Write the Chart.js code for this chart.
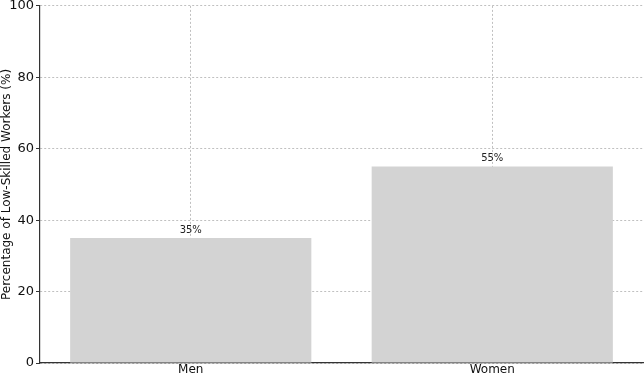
<!DOCTYPE html>
<html>
<head>
<meta charset="utf-8">
<script src="https://cdn.jsdelivr.net/npm/chart.js@4/dist/chart.umd.min.js"></script>
<style>
  html, body { margin: 0; padding: 0; background: #fff; }
  #wrap { width: 644px; height: 376px; position: relative; }
</style>
</head>
<body>
<div id="wrap"><canvas id="lowSkillChart"></canvas></div>
<script>
// --- DATA ---
const genders = ['Men', 'Women'];
const lowSkilledShare = [35, 55];
const yTicks = [0, 20, 40, 60, 80, 100];

// draws the "35%" style labels above each bar
const valueLabels = {
    id: 'valueLabels',
    afterDatasetsDraw(chart) {
        const ctx = chart.ctx;
        const meta = chart.getDatasetMeta(0);
        ctx.save();
        ctx.font = '10px "DejaVu Sans"';
        ctx.fillStyle = '#222';
        ctx.textAlign = 'center';
        ctx.textBaseline = 'bottom';
        meta.data.forEach((bar, i) => {
            ctx.fillText(lowSkilledShare[i] + '%', bar.x, bar.y - 3);
        });
        ctx.restore();
    }
};

const ctx = document.getElementById('lowSkillChart').getContext('2d');

new Chart(ctx, {
    type: 'bar',
    data: {
        labels: genders,
        datasets: [{
            data: lowSkilledShare,
            backgroundColor: '#d3d3d3',
            borderWidth: 0,
            categoryPercentage: 0.8,
            barPercentage: 1.0
        }]
    },
    options: {
        responsive: true,
        maintainAspectRatio: false,
        animation: false,
        layout: { padding: { top: 4, right: 1, left: 0, bottom: 0 } },
        plugins: {
            legend: { display: false },
            tooltip: { enabled: false }
        },
        scales: {
            x: {
                z: 1, // grid on top of bars, like the reference
                offset: true,
                grid: {
                    offset: false,
                    color: 'rgba(176,176,176,0.8)',
                    lineWidth: 1,
                    drawTicks: false
                },
                border: { display: true, color: '#333', width: 1.2, dash: [2, 2] },
                ticks: {
                    color: '#111',
                    font: { family: 'DejaVu Sans', size: 12 },
                    padding: 0,
                    maxRotation: 0
                },
                afterFit(scale) { scale.height = 13; }
            },
            y: {
                z: 1,
                min: 0,
                max: 100,
                afterBuildTicks(scale) {
                    scale.ticks = yTicks.map(v => ({ value: v }));
                },
                grid: {
                    color: 'rgba(176,176,176,0.8)',
                    lineWidth: 1,
                    tickLength: 4,
                    tickColor: '#333'
                },
                border: { display: true, color: '#333', width: 1.2, dash: [2, 2] },
                ticks: {
                    color: '#111',
                    font: { family: 'DejaVu Sans', size: 13, lineHeight: 0.6 },
                    padding: 2
                },
                title: {
                    display: true,
                    text: 'Percentage of Low-Skilled Workers (%)',
                    color: '#111',
                    font: { family: 'DejaVu Sans', size: 12 },
                    padding: { top: 0, bottom: 0 }
                },
                afterFit(scale) { scale.width = 40; }
            }
        }
    },
    plugins: [valueLabels]
});
</script>
</body>
</html>
